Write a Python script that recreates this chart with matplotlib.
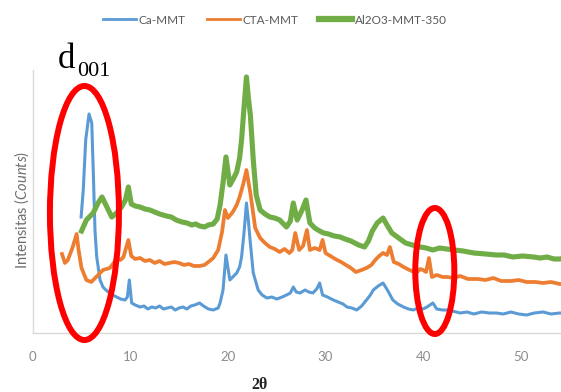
import matplotlib
matplotlib.use('Agg')
import matplotlib.pyplot as plt
from matplotlib.patches import Ellipse
from matplotlib.lines import Line2D

# 2theta (deg) and intensity (arbitrary counts)
ca_tt = [4.96, 5.18, 5.43, 5.77, 6.05, 6.21, 6.38, 6.56, 6.9, 7.2, 7.5, 7.9, 8.2, 8.6, 9.0, 9.46, 9.7, 9.9,
         10.14, 10.5, 11.0, 11.4, 11.8, 12.2, 12.6, 13.0, 13.4, 13.8, 14.2, 14.6, 15.0, 15.4, 15.8, 16.2,
         16.6, 17.1, 17.5, 18.0, 18.5, 19.0, 19.2, 19.5, 19.8, 20.2, 20.6, 20.9, 21.2, 21.4, 21.65, 21.9,
         22.1, 22.3, 22.6, 23.1, 23.5, 24.0, 24.5, 25.0, 25.3, 25.8, 26.4, 26.7, 27.0, 27.4, 27.9, 28.3,
         28.7, 29.1, 29.4, 29.7, 30.2, 30.8, 31.3, 31.8, 32.2, 32.7, 33.2, 33.7, 34.2, 34.6, 34.9, 35.4,
         35.9, 36.4, 36.9, 37.4, 38.0, 38.5, 39.0, 39.5, 40.0, 40.4, 41.0, 41.4, 42.0, 42.5, 43.0, 43.8,
         44.5, 45.2, 46.0, 46.8, 47.5, 48.2, 49.0, 49.8, 50.6, 51.4, 52.3, 53.1, 54.0, 54.5]
ca_int = [116, 143, 193, 219, 210, 160, 103, 76, 53, 46, 43, 40, 38, 36, 34, 33, 36, 53,
          30, 28, 26, 27, 24, 26, 25, 27, 24, 25, 26, 23, 25, 26, 24, 27,
          28, 30, 27, 24, 23, 25, 30, 43, 78, 53, 57, 60, 66, 76, 100, 130,
          112, 90, 60, 43, 38, 35, 36, 34, 35, 37, 40, 46, 41, 40, 43, 41,
          40, 44, 50, 38, 36, 33, 31, 29, 26, 25, 23, 27, 33, 38, 43, 47,
          50, 42, 33, 29, 26, 24, 23, 25, 24, 26, 30, 24, 23, 23, 22, 20,
          21, 19, 21, 20, 20, 19, 21, 19, 18, 20, 21, 19, 20, 20]

cta_tt = [3.0, 3.3, 3.6, 4.1, 4.5, 4.7, 5.0, 5.5, 6.0, 6.6, 7.2, 7.9, 8.3, 8.6, 9.0, 9.3, 9.8, 10.1,
          10.5, 11.0, 11.5, 12.0, 12.5, 13.0, 13.5, 14.0, 14.5, 15.0, 15.5, 16.0, 16.5, 17.1, 17.6,
          18.0, 18.5, 19.0, 19.4, 19.7, 20.0, 20.5, 20.9, 21.2, 21.6, 21.9, 22.3, 22.8, 23.3, 23.8,
          24.3, 24.8, 25.3, 25.8, 26.3, 26.6, 26.9, 27.3, 27.7, 28.1, 28.4, 28.9, 29.4, 29.7, 30.0,
          30.5, 31.0, 31.6, 32.1, 32.6, 33.1, 33.7, 34.2, 34.7, 35.1, 35.5, 35.9, 36.3, 36.6, 37.0,
          37.5, 38.0, 38.6, 39.3, 39.7, 40.0, 40.3, 40.6, 40.9, 41.4, 42.0, 42.5, 43.1, 43.8, 44.6,
          45.6, 46.4, 47.2, 48.0, 49.0, 49.8, 50.6, 51.5, 52.3, 53.1, 54.0, 54.5]
cta_int = [79, 70, 73, 86, 99, 83, 65, 53, 51, 57, 63, 65, 70, 75, 73, 76, 93, 77,
           74, 75, 72, 73, 70, 72, 69, 70, 71, 70, 68, 69, 67, 67, 68,
           71, 75, 83, 101, 123, 115, 121, 128, 136, 150, 163, 140, 105, 95, 90,
           86, 84, 81, 84, 80, 83, 100, 83, 87, 103, 83, 85, 83, 93, 80,
           77, 74, 71, 68, 65, 61, 63, 65, 68, 73, 77, 80, 78, 86, 71,
           69, 66, 63, 60, 64, 63, 61, 75, 56, 58, 56, 56, 55, 57, 54,
           54, 53, 55, 52, 52, 53, 51, 51, 50, 51, 49, 49]

al_tt = [5.0, 5.5, 6.2, 6.7, 7.1, 7.6, 8.1, 8.6, 9.1, 9.5, 9.8, 10.1, 10.5, 11.0, 11.5, 12.0, 12.5,
         13.0, 13.7, 14.2, 14.7, 15.3, 15.8, 16.3, 16.7, 17.1, 17.6, 18.0, 18.5, 18.9, 19.2, 19.5,
         19.8, 20.2, 20.6, 20.9, 21.2, 21.4, 21.65, 21.9, 22.1, 22.3, 22.6, 22.9, 23.3, 23.8, 24.3,
         24.8, 25.3, 26.0, 26.4, 26.7, 27.1, 27.6, 28.0, 28.4, 28.9, 29.4, 29.8, 30.3, 30.9, 31.5,
         32.0, 32.6, 33.0, 33.4, 34.0, 34.4, 34.8, 35.3, 35.9, 36.3, 36.8, 37.5, 38.2, 38.9, 39.7,
         40.3, 41.0, 41.7, 42.4, 43.2, 44.1, 45.2, 46.4, 47.5, 48.3, 49.2, 50.2, 51.3, 52.0, 52.7,
         53.4, 54.0, 54.5]
al_int = [102, 113, 120, 130, 136, 126, 116, 120, 126, 133, 146, 129, 127, 126, 124, 123, 121,
          119, 117, 116, 113, 111, 110, 108, 109, 107, 106, 108, 109, 114, 128, 150,
          176, 148, 155, 161, 175, 193, 225, 256, 235, 218, 173, 138, 123, 119, 116,
          115, 113, 106, 112, 130, 113, 123, 133, 110, 105, 102, 100, 99, 97, 96,
          94, 92, 90, 88, 86, 92, 102, 110, 115, 108, 100, 95, 90, 88, 86,
          85, 83, 85, 84, 83, 82, 80, 79, 78, 78, 76, 77, 76, 75, 76,
          74, 74, 75]

labels = ['Ca-MMT', 'CTA-MMT', 'Al2O3-MMT-350']
colors = ['#5B9BD5', '#ED7D31', '#70AD47']
xticks = [0, 10, 20, 30, 40, 50]

plt.rcParams['font.family'] = ['Lato', 'DejaVu Sans']
plt.rcParams['mathtext.fontset'] = 'custom'
plt.rcParams['mathtext.rm'] = 'Lato'
plt.rcParams['mathtext.it'] = 'Lato:italic'

fig = plt.figure(figsize=(5.61, 3.92), dpi=100)
ax = fig.add_axes([0.0583, 0.1505, 0.9417, 0.671])

ax.plot(ca_tt, ca_int, color=colors[0], lw=2.2)
ax.plot(cta_tt, cta_int, color=colors[1], lw=2.7)
ax.plot(al_tt, al_int, color=colors[2], lw=3.7)

ax.set_xlim(0, 54.13)
ax.set_ylim(0, 263)
ax.set_xticks(xticks)
ax.set_yticks([])
ax.tick_params(axis='x', length=0, pad=13, labelsize=9.5, labelcolor='#8c8c8c')
for s in ['top', 'right']:
    ax.spines[s].set_visible(False)
for s in ['left', 'bottom']:
    ax.spines[s].set_color('#d9d9d9')
    ax.spines[s].set_linewidth(1.0)

# red rings drawn on the figure
ax.add_patch(Ellipse((5.3, 120), 7.07, 254, fill=False, ec='#ff0000', lw=4.3, clip_on=False, zorder=5))
ax.add_patch(Ellipse((41.2, 62), 4.0, 126, fill=False, ec='#ff0000', lw=4.3, clip_on=False, zorder=5))

# axis titles
fig.text(22 / 561, 1 - 210 / 392, r'Intensitas ($\it{Counts}$)', rotation=90, ha='center',
         va='center', fontsize=10.5, color='#6e6e6e')
fig.text(259 / 561, 1 - 385 / 392, '2θ', ha='center', va='center', fontsize=11.5,
         fontweight='bold', family='Liberation Serif', color='#222222')

# d001 label
fig.text(58 / 561, 1 - 68 / 392, 'd', ha='left', va='baseline', fontsize=25,
         family='Liberation Serif', color='black')
fig.text(77 / 561, 1 - 76 / 392, '001', ha='left', va='baseline', fontsize=16,
         family='Liberation Serif', color='black')

handles = [Line2D([], [], color=colors[0], lw=2.0),
           Line2D([], [], color=colors[1], lw=2.0),
           Line2D([], [], color=colors[2], lw=4.5)]
fig.legend(handles, labels, loc='center', bbox_to_anchor=(0.49, 1 - 20 / 392), ncol=3,
           frameon=False, fontsize=8.5, handlelength=2.8, handletextpad=0.2, columnspacing=1.8,
           labelcolor='#595959')

fig.savefig('out.png', dpi=100)
